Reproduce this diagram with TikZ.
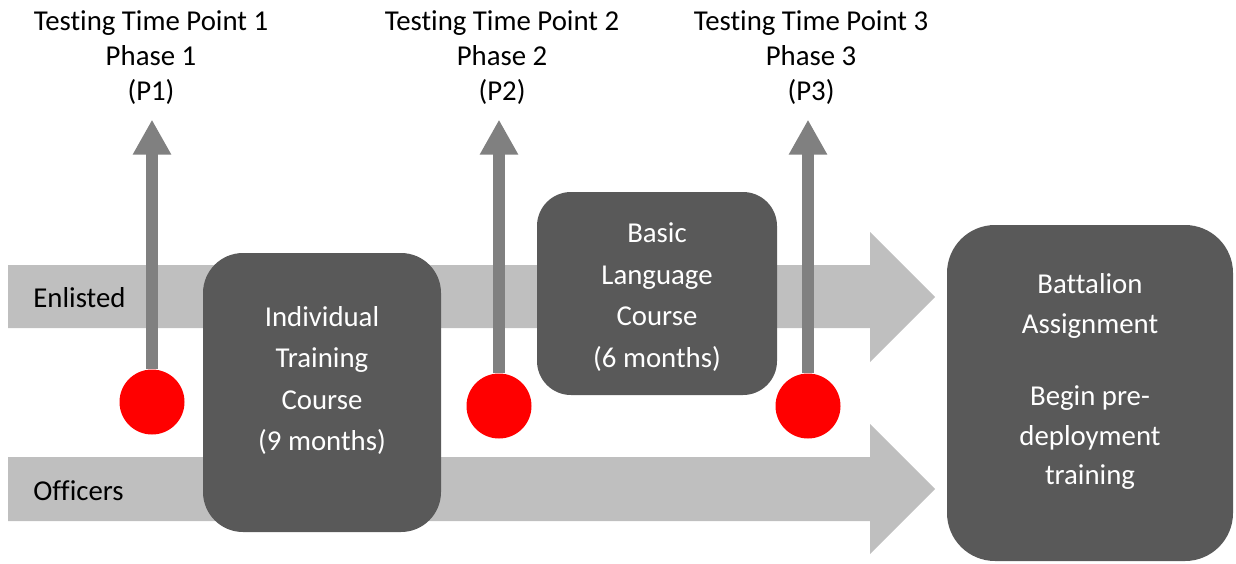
\documentclass[tikz,border=0pt]{standalone}
\usepackage{fontspec}
\setmainfont{Carlito}[RawFeature={-liga;-clig;-calt;-dlig}]
\usetikzlibrary{arrows.meta,positioning,calc}
\definecolor{bandGray}{RGB}{191,191,191}
\definecolor{boxGray}{RGB}{89,89,89}
\definecolor{tipGray}{RGB}{128,128,128}
\definecolor{dotRed}{RGB}{255,0,0}

\begin{document}
\begin{tikzpicture}[x=0.5pt, y=-0.5pt,
    every node/.style={font=\fontsize{14.4pt}{17.5pt}\selectfont, inner sep=0pt},
    stage/.style={fill=boxGray, rounded corners=#1},
    stagetext/.style={text=white, align=center, font=\fontsize{14.4pt}{20.8pt}\selectfont},
    toplabel/.style={align=center, anchor=north},
    reddot/.style={circle, fill=dotRed, minimum size=32.5pt},
    marker/.style={draw=tipGray, line width=6pt, -{Triangle[width=18pt,length=17.5pt]}}]
    \useasboundingbox (0,0) rectangle (1236,563);
    % Enlisted and officers bands
    \fill[bandGray] (8,265) -- (870,265) -- (870,232) -- (935,297) -- (870,362) -- (870,328) -- (8,328) -- cycle;
    \fill[bandGray] (8,457) -- (870,457) -- (870,424) -- (935,489) -- (870,554) -- (870,521) -- (8,521) -- cycle;
    \node[anchor=west] (enl) at (33,298) {Enlisted};
    \node[anchor=west] (off) at (33,491) {Officers};
    % Courses and assignment
    \node[stage=20pt, minimum width=119pt, minimum height=139.5pt] (itc) at (322,392.5) {};
    \node[stagetext, yshift=6pt] (itctext) at (itc) {Individual\\Training\\Course\\(9 months)};
    \node[stage=17pt, minimum width=120pt, minimum height=101.5pt] (blc) at (657,293.5) {};
    \node[stagetext, yshift=-1.7pt] (blctext) at (blc) {Basic\\Language\\Course\\(6 months)};
    \node[stage=24pt, minimum width=143pt, minimum height=168pt] (bat) at (1090,393) {};
    \node[stagetext, yshift=5.7pt, font=\fontsize{14.4pt}{19.75pt}\selectfont] (battext) at (bat)
      {Battalion\\Assignment\\[16.5pt]Begin pre-\\deployment\\training};
    % Testing time points
    \foreach \n/\x/\y/\lx in {1/152/402/151, 2/499/406/502, 3/808/406/811} {
      \node[toplabel] (lab\n) at (\lx,10) {Testing Time Point \n\\Phase \n\\(P\n)};
      \node[reddot] (dot\n) at (\x,\y) {};
      \draw[marker, shorten >=7.5pt] (dot\n.north) -- (dot\n.north |- lab\n.south);
    }
  \end{tikzpicture}
\end{document}
